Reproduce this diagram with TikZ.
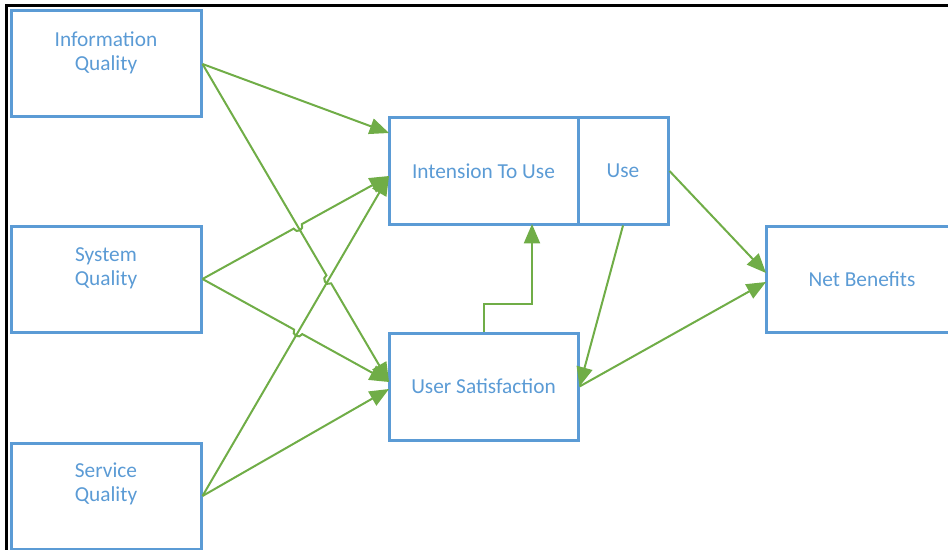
\documentclass[tikz,border=0pt]{standalone}
\usepackage{fontspec}
\setmainfont{Carlito}
\usetikzlibrary{arrows.meta,calc,intersections}

\definecolor{boxblue}{RGB}{91,155,213}
\definecolor{arrowgreen}{RGB}{112,173,71}

\tikzset{every picture/.style={line width=0.75pt}}

% line from #1 to #3 that hops over the crossing #2
\newcommand{\hopline}[3]{%
  \draw[conn] (#1) -- ($(#2)!3.5pt!(#1)$)
    .. controls ($(#2)!3.5pt!(#1)!4.5pt!90:(#2)$) and ($(#2)!3.5pt!(#3)!4.5pt!-90:(#2)$)
    .. ($(#2)!3.5pt!(#3)$) -- (#3);}

\begin{document}
\begin{tikzpicture}[x=0.75pt,y=0.75pt,yscale=-1,xscale=1,
  box/.style={draw=boxblue,line width=2.25pt,rectangle,minimum height=79.5pt,
    inner sep=0pt,text=boxblue,font=\fontsize{16}{18}\selectfont},
  boxtxt/.style={text=boxblue,align=center,inner sep=0pt,font=\fontsize{16}{18}\selectfont},
  conn/.style={draw=arrowgreen,line width=1.5pt,-{Triangle[length=14.5pt,width=12pt]}},
  frame/.style={draw=black,line width=2.25pt}]
\useasboundingbox (0,0) rectangle (948,549);

%Shape: Frame
\draw[frame] (6,570) -- (6,6) -- (970,6);

%Shape: Rectangle
\node[box,minimum width=142.5pt] (iq) at (106,64) {};
%Shape: Rectangle
\node[box,minimum width=142.5pt] (sq) at (106,279) {};
%Shape: Rectangle
\node[box,minimum width=142.5pt] (seq) at (106,496) {};
%Shape: Rectangle
\node[box,minimum width=141.75pt] (itu) at (483.5,171) {Intension To Use};
%Shape: Rectangle
\node[box,minimum width=67.5pt] (use) at (623,171) {Use};
%Shape: Rectangle
\node[box,minimum width=141.75pt,minimum height=80.25pt] (us) at (483.5,386.5) {User Satisfaction};
%Shape: Rectangle
\node[box,minimum width=144pt] (nb) at (862,279) {Net Benefits};

% Text Node
\node[boxtxt] (iqt) at (106,53) {Information\\Quality};
% Text Node
\node[boxtxt] (sqt) at (106,268.5) {System\\Quality};
% Text Node
\node[boxtxt] (seqt) at (106,484) {Service\\Quality};

% arrow ends on the box sides
\coordinate (itu-in1) at (389,133);
\coordinate (itu-in2) at (389,176);
\coordinate (itu-in3) at (532,224);
\coordinate (us-in1) at (389,382);
\coordinate (us-in2) at (389,389);
\coordinate (nb-in1) at (766,273);
\coordinate (nb-in2) at (766,282);

% crossings
\path[name path=iqus] (iq.east) -- (us-in1);
\path[name path=sqitu] (sq.east) -- (itu-in2);
\path[name path=seqitu] (seq.east) -- (itu-in2);
\path[name path=squs] (sq.east) -- (us-in1);
\path[name intersections={of=iqus and sqitu,by=x1}];
\path[name intersections={of=iqus and seqitu,by=x2}];
\path[name intersections={of=squs and seqitu,by=x3}];

%Straight Lines
\draw[conn] (iq.east) -- (itu-in1);
\hopline{iq.east}{x2}{us-in1}
\hopline{sq.east}{x1}{itu-in2}
\hopline{sq.east}{x3}{us-in1}
\draw[conn] (seq.east) -- (itu-in2);
\draw[conn] (seq.east) -- (us-in2);

\draw[conn] (us.north) -- ++(0,-28) -| (itu-in3);
\draw[conn] (use.south) -- (us.east);
\draw[conn] (use.east) -- (nb-in1);
\draw[conn] (us.east) -- (nb-in2);

\end{tikzpicture}
\end{document}
